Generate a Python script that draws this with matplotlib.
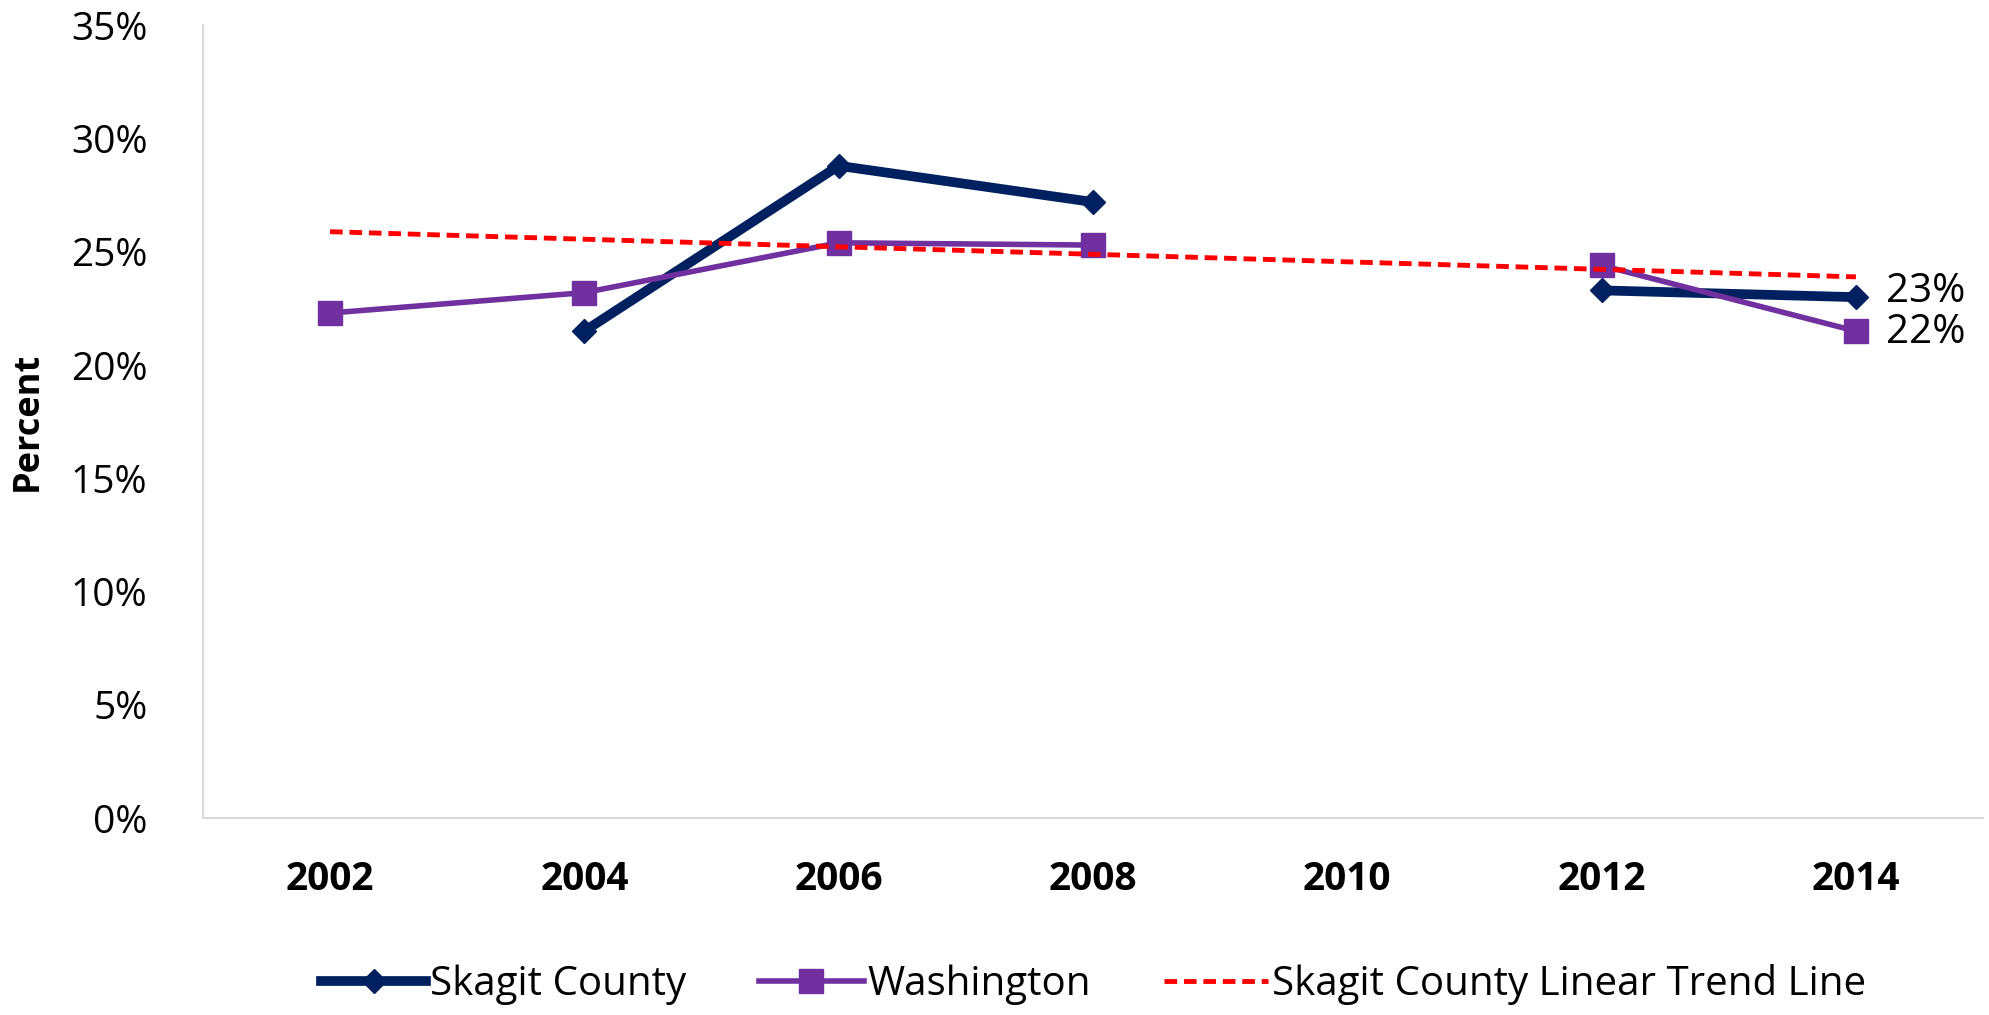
import numpy as np
import matplotlib.pyplot as plt
from matplotlib.ticker import PercentFormatter

# survey years (categorical axis, 2010 has no data)
years = ['2002', '2004', '2006', '2008', '2010', '2012', '2014']
skagit = [np.nan, 21.5, 28.8, 27.2, np.nan, 23.3, 23.0]
washington = [22.3, 23.2, 25.4, 25.3, np.nan, 24.4, 21.5]
end_labels = ['23%', '22%']

navy = '#002060'
purple = '#7030A0'

plt.rcParams['font.family'] = ['Open Sans', 'DejaVu Sans']

x = np.arange(len(years))
sk = np.array(skagit)
wa = np.array(washington)

# Excel style linear trend over category index
ok = ~np.isnan(sk)
slope, icpt = np.polyfit(x[ok], sk[ok], 1)
trend = slope * x + icpt

fig = plt.figure(figsize=(19.89, 10.15), dpi=100)
ax = fig.add_axes([0.102, 0.194, 0.895, 0.781])

# connect only consecutive points (gap at 2010)
ax.plot(x, sk, color=navy, lw=7, marker='D', ms=12, label='Skagit County')
ax.plot(x, wa, color=purple, lw=4, marker='s', ms=17, label='Washington')
ax.plot(x, trend, color='#FF0000', lw=3.5, ls=(0, (2.6, 1.4)), label='Skagit County Linear Trend Line')

ax.annotate(end_labels[0], (x[-1], sk[-1]), xytext=(22, 4), textcoords='offset points',
            va='center', ha='left', fontsize=29)
ax.annotate(end_labels[1], (x[-1], wa[-1]), xytext=(22, -1), textcoords='offset points',
            va='center', ha='left', fontsize=29)

ax.set_xlim(-0.5, 6.5)
ax.set_ylim(0, 35)
ax.set_yticks(np.arange(0, 36, 5))
ax.yaxis.set_major_formatter(PercentFormatter(decimals=0))
ax.set_xticks(x)
ax.set_xticklabels(years, fontweight='bold')
ax.tick_params(length=0, labelsize=28)
ax.tick_params(axis='x', pad=30)
ax.tick_params(axis='y', pad=40)
ax.set_ylabel('Percent', fontsize=26, fontweight='bold', labelpad=18)

for s in ['top', 'right']:
    ax.spines[s].set_visible(False)
for s in ['left', 'bottom']:
    ax.spines[s].set_color('#D9D9D9')
    ax.spines[s].set_linewidth(1.5)

fig.legend(loc='center', bbox_to_anchor=(0.55, 0.03), ncol=3, frameon=False,
           fontsize=29, handlelength=2.6, columnspacing=1.8, handletextpad=0.1)

fig.savefig('out.png', dpi=100)
